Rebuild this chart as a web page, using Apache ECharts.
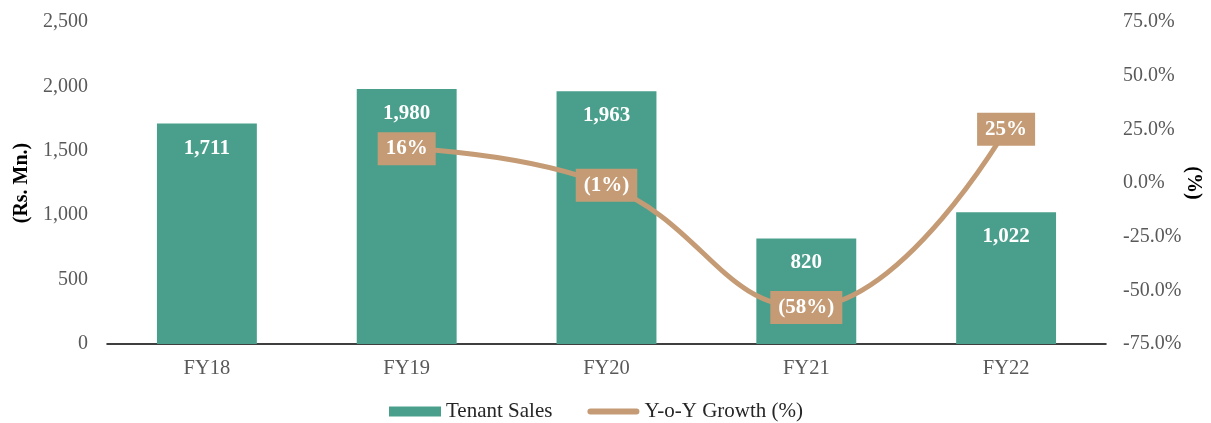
<!DOCTYPE html>
<html>
<head>
<meta charset="utf-8">
<script src="https://cdn.jsdelivr.net/npm/echarts@6/dist/echarts.min.js"></script>
<style>
  html, body { margin: 0; padding: 0; background: #ffffff; }
  #chart { width: 1211px; height: 423px; }
</style>
</head>
<body>
<div id="chart"></div>
<script>
// Fiscal years on the x axis
const categories = ['FY18', 'FY19', 'FY20', 'FY21', 'FY22'];
// Tenant sales, Rs. Mn.
const tenantSales = [1711, 1980, 1963, 820, 1022];
// Year-on-year growth, % (no prior year for FY18)
const yoyGrowth = [null, 16, -1, -58, 25];

const FONT = '"Liberation Serif", "Times New Roman", serif';
const BAR_COLOR = '#4a9f8c';
const LINE_COLOR = '#c49b74';
const AXIS_TEXT = '#595959';

function fmtThousands(v) {
  return v.toLocaleString('en-US');
}
function fmtGrowth(v) {
  return v < 0 ? '(' + Math.abs(v) + '%)' : v + '%';
}

const chart = echarts.init(document.getElementById('chart'), null, { renderer: 'canvas' });

chart.setOption({
  animation: false,
  textStyle: { fontFamily: FONT },
  grid: {
    left: 107, right: 105, top: 22, bottom: 79,
    containLabel: false,
    outerBoundsMode: 'none'
  },
  legend: {
    top: 396,
    left: 384,
    itemGap: 35,
    itemWidth: 52,
    itemHeight: 10,
    textStyle: { fontFamily: FONT, fontSize: 21, color: '#262626' },
    data: [
      { name: 'Tenant Sales', icon: 'rect' },
      {
        name: 'Y-o-Y Growth (%)',
        icon: 'path://M3,0 L49,0 A3,3 0 0 1 49,6 L3,6 A3,3 0 0 1 3,0 Z',
        itemStyle: { color: LINE_COLOR }
      }
    ]
  },
  xAxis: {
    type: 'category',
    data: categories,
    axisLine: { lineStyle: { color: '#000000', width: 1.5 } },
    axisTick: { show: false },
    axisLabel: { fontFamily: FONT, fontSize: 20.5, color: AXIS_TEXT, margin: 14 }
  },
  yAxis: [
    {
      type: 'value',
      min: 0,
      max: 2500,
      interval: 500,
      name: '(Rs. Mn.)',
      nameLocation: 'middle',
      nameGap: 75,
      nameMoveOverlap: false,
      nameRotate: 90,
      nameTextStyle: { fontFamily: FONT, fontSize: 20, fontWeight: 'bold', color: '#000000' },
      axisLine: { show: false },
      axisTick: { show: false },
      splitLine: { show: false },
      axisLabel: {
        fontFamily: FONT, fontSize: 20, color: AXIS_TEXT, margin: 19,
        formatter: fmtThousands
      }
    },
    {
      type: 'value',
      min: -75,
      max: 75,
      interval: 25,
      name: '(%)',
      nameLocation: 'middle',
      nameGap: 77,
      nameMoveOverlap: false,
      nameRotate: -90,
      nameTextStyle: { fontFamily: FONT, fontSize: 20, fontWeight: 'bold', color: '#000000' },
      axisLine: { show: false },
      axisTick: { show: false },
      splitLine: { show: false },
      axisLabel: {
        fontFamily: FONT, fontSize: 20, color: AXIS_TEXT, margin: 17,
        formatter: v => v.toFixed(1) + '%'
      }
    }
  ],
  series: [
    {
      name: 'Tenant Sales',
      type: 'bar',
      yAxisIndex: 0,
      data: tenantSales,
      barWidth: '50%',
      itemStyle: { color: BAR_COLOR },
      label: {
        show: true,
        position: 'insideTop',
        distance: 14,
        fontFamily: FONT,
        fontSize: 21,
        fontWeight: 'bold',
        color: '#ffffff',
        formatter: p => fmtThousands(p.value)
      },
      z: 2
    },
    {
      name: 'Y-o-Y Growth (%)',
      type: 'line',
      yAxisIndex: 1,
      data: yoyGrowth,
      smooth: 0.45,
      symbol: 'circle',
      symbolSize: 0.1,
      showSymbol: true,
      lineStyle: { color: LINE_COLOR, width: 5 },
      itemStyle: { color: LINE_COLOR },
      label: {
        show: true,
        position: 'inside',
        fontFamily: FONT,
        fontSize: 21,
        fontWeight: 'bold',
        color: '#ffffff',
        backgroundColor: LINE_COLOR,
        padding: [6, 8, 6, 8],
        formatter: p => fmtGrowth(p.value)
      },
      z: 3
    }
  ]
});
</script>
</body>
</html>
